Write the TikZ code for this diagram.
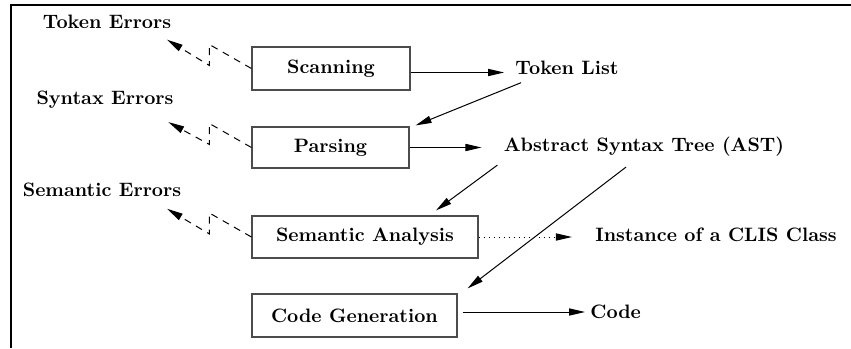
\documentclass[tikz,border=0pt]{standalone}
\usepackage{tikz}
\usetikzlibrary{arrows.meta}

\tikzset{
    phase/.style={draw=black!70, line width=0.6pt, minimum height=21pt,
        inner sep=0pt, font=\fontsize{9.7}{11}\selectfont\bfseries},
    lbl/.style={inner sep=1pt, font=\fontsize{9.7}{11}\selectfont\bfseries},
    flow/.style={-{Triangle[length=8pt,width=3.6pt]}, line width=0.5pt},
    errflow/.style={flow, dash pattern=on 3.5pt off 3pt},
}

\begin{document}
\begin{tikzpicture}[x=0.5pt, y=-0.5pt]
    \useasboundingbox (0,0) rectangle (851,348);
    \draw[line width=1.4pt] (851,5) -- (11,5) -- (11,348);

    % compiler phases
    \node[phase, minimum width=79pt, minimum height=21.5pt] (scan) at (331,68.5) {Scanning};
    \node[phase, minimum width=78.5pt, minimum height=20.5pt] (pars) at (330.5,147.5) {Parsing};
    \node[phase, minimum width=113pt] (sem) at (365,237) {Semantic Analysis};
    \node[phase, minimum width=102.5pt, minimum height=21.5pt] (cgen) at (354.5,315.5) {Code Generation};

    % errors
    \node[lbl] (tokerr) at (107,22) {Token Errors};
    \node[lbl] (synerr) at (105,100) {Syntax Errors};
    \node[lbl] (semerr) at (102,190) {Semantic Errors};

    % results
    \node[lbl] (toklist) at (567,68) {Token List};
    \node[lbl] (ast) at (644,147) {Abstract Syntax Tree (AST)};
    \node[lbl] (inst) at (716,235) {Instance of a CLIS Class};
    \node[lbl, anchor=west] (code) at (588,312) {Code};

    \draw[flow, shorten >=4.5pt] ([yshift=-2pt]scan.east) -- ([yshift=-2pt]scan.east -| toklist.west);
    \draw[flow] ([shift={(4pt,-2.75pt)}]toklist.south west) -- ([shift={(3pt,0.5pt)}]pars.north east);
    \draw[flow, shorten >=10pt] (pars.east) -- (pars.east -| ast.west);
    \draw[flow] ([shift={(-2pt,-3pt)}]ast.south west) -- ([shift={(35.5pt,2.5pt)}]sem.north);
    \draw[flow] ([shift={(-9pt,-4pt)}]ast.south) -- ([shift={(5pt,2.5pt)}]cgen.north east);
    \draw[flow, dotted, shorten >=10.5pt] (sem.east) -- (sem.east -| inst.west);
    \draw[flow, shorten >=1.5pt] ([shift={(2.5pt,1.75pt)}]cgen.east) -- (code.west);

    \draw[errflow] (scan.west) -- ++(-42,-24) -- ++(0,21) -- ([shift={(-3.25pt,-4.25pt)}]tokerr.south east);
    \draw[errflow] (pars.west) -- ++(-42,-24) -- ++(0,21) -- ([shift={(-3.75pt,-5.5pt)}]synerr.south east);
    \draw[errflow] (sem.west) -- ++(-42,-24) -- ++(0,21) -- ([shift={(-8.25pt,-4.75pt)}]semerr.south east);
\end{tikzpicture}
\end{document}
